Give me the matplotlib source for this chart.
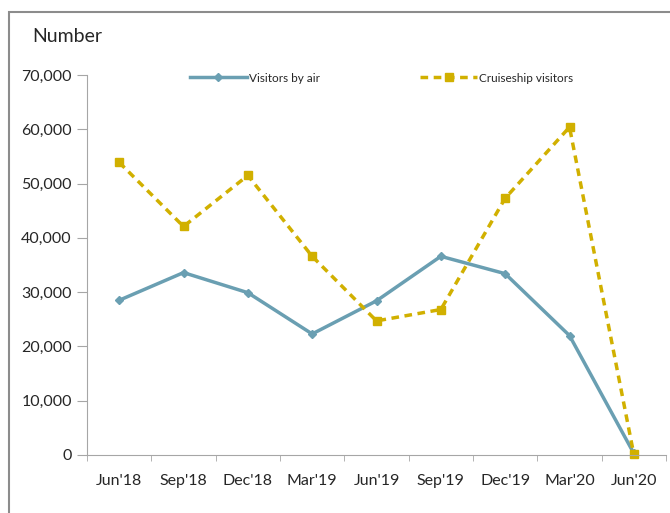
import matplotlib
matplotlib.use("Agg")
import matplotlib.pyplot as plt
from matplotlib.patches import Rectangle
from matplotlib.ticker import FuncFormatter, FixedLocator
import numpy as np

plt.rcParams['font.family'] = ['Lato', 'DejaVu Sans']

quarters = ["Jun'18", "Sep'18", "Dec'18", "Mar'19", "Jun'19",
            "Sep'19", "Dec'19", "Mar'20", "Jun'20"]
air = [28500, 33600, 29900, 22300, 28400, 36600, 33400, 22000, 300]
cruise = [53900, 42100, 51500, 36600, 24700, 26800, 47300, 60400, 100]

air_col = "#6a9fb2"
cruise_col = "#d1b000"
axis_col = "#a6a6a6"
text_col = "#262626"

fig = plt.figure(figsize=(6.7, 5.13), dpi=100)
# chart-area frame, cut at right and bottom like the screenshot
fig.patches.append(Rectangle((9 / 670, -0.05), 1.2, 1 - 12 / 513 + 0.05,
                             transform=fig.transFigure, fill=False,
                             edgecolor="#8c8c8c", lw=1.5))

ax = fig.add_axes([87 / 670, 1 - 455 / 513, 579 / 670, 380 / 513])
x = np.arange(len(quarters))

ax.plot(x, air, color=air_col, lw=2.5, marker="D", ms=4,
        label="Visitors by air")
ax.plot(x, cruise, color=cruise_col, lw=2.5, ls=(0, (2.2, 1.6)), marker="s",
        ms=6, label="Cruiseship visitors", clip_on=False)

ax.set_xlim(-0.5, len(quarters) - 0.5)
ax.set_ylim(0, 70000)
ax.set_yticks(np.arange(0, 70001, 10000))
ax.yaxis.set_major_formatter(FuncFormatter(lambda v, p: f"{int(v):,}"))
ax.set_xticks(x)
ax.set_xticklabels(quarters)
ax.xaxis.set_minor_locator(FixedLocator(np.arange(-0.5, len(quarters), 1)))
ax.tick_params(axis="x", which="major", length=0, pad=14, labelsize=11.5,
               labelcolor=text_col)
ax.tick_params(axis="x", which="minor", length=4, color=axis_col, direction="out")
ax.tick_params(axis="y", length=7, color=axis_col, labelsize=11.5, pad=4,
               labelcolor=text_col)

for s in ["top", "right"]:
    ax.spines[s].set_visible(False)
for s in ["left", "bottom"]:
    ax.spines[s].set_color(axis_col)

fig.text(32 / 670, 1 - 36 / 513, "Number", fontsize=14, va="center",
         color=text_col)

ax.legend(loc="center", bbox_to_anchor=(0.509, 0.992), ncol=2, frameon=False,
          fontsize=8.5, columnspacing=8.5, handlelength=4.8, handletextpad=0.2,
          labelcolor=text_col)

fig.savefig("out.png", dpi=100)
